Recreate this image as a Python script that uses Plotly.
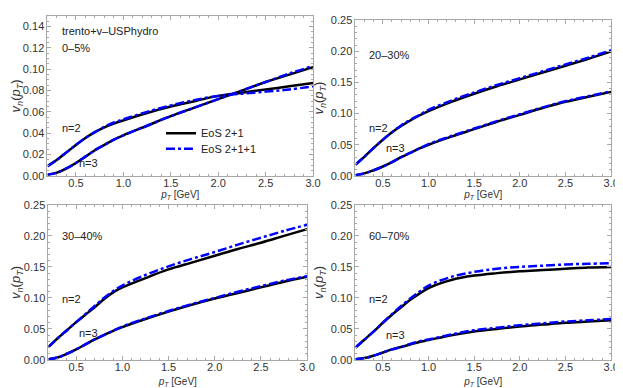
import plotly.graph_objects as go

pt = [0.2, 0.3, 0.4, 0.5, 0.6, 0.7, 0.8, 0.9, 1.0, 1.25, 1.5, 1.75, 2.0, 2.25, 2.5, 2.75, 3.0]

# 0-5%
v2_0_5_a = [0.009, 0.015, 0.022, 0.029, 0.0355, 0.041, 0.0455, 0.049, 0.052, 0.059, 0.065, 0.070, 0.075, 0.078, 0.081, 0.084, 0.087]
v2_0_5_b = [0.009, 0.015, 0.022, 0.029, 0.0355, 0.041, 0.046, 0.050, 0.053, 0.060, 0.066, 0.071, 0.075, 0.077, 0.079, 0.081, 0.084]
v3_0_5_a = [0.001, 0.003, 0.007, 0.012, 0.018, 0.024, 0.029, 0.034, 0.038, 0.047, 0.056, 0.064, 0.072, 0.080, 0.088, 0.095, 0.102]
v3_0_5_b = [0.001, 0.003, 0.007, 0.012, 0.018, 0.024, 0.029, 0.034, 0.038, 0.047, 0.056, 0.064, 0.072, 0.080, 0.088, 0.096, 0.103]

# 20-30%
v2_20_30_a = [0.018, 0.031, 0.045, 0.058, 0.070, 0.080, 0.089, 0.097, 0.104, 0.119, 0.132, 0.144, 0.155, 0.166, 0.177, 0.188, 0.200]
v2_20_30_b = [0.018, 0.031, 0.045, 0.058, 0.070, 0.081, 0.090, 0.098, 0.106, 0.121, 0.134, 0.146, 0.157, 0.168, 0.179, 0.190, 0.202]
v3_20_30_a = [0.001, 0.004, 0.009, 0.015, 0.022, 0.030, 0.037, 0.044, 0.050, 0.063, 0.075, 0.087, 0.098, 0.109, 0.119, 0.127, 0.135]
v3_20_30_b = [0.001, 0.004, 0.009, 0.015, 0.022, 0.030, 0.037, 0.044, 0.051, 0.064, 0.076, 0.088, 0.099, 0.110, 0.120, 0.128, 0.136]

# 30-40%
v2_30_40_a = [0.021, 0.035, 0.048, 0.061, 0.073, 0.085, 0.098, 0.109, 0.117, 0.132, 0.146, 0.157, 0.168, 0.179, 0.189, 0.200, 0.211]
v2_30_40_b = [0.021, 0.035, 0.048, 0.061, 0.074, 0.087, 0.100, 0.111, 0.120, 0.137, 0.151, 0.163, 0.174, 0.186, 0.197, 0.208, 0.218]
v3_30_40_a = [0.001, 0.004, 0.010, 0.017, 0.025, 0.033, 0.040, 0.047, 0.053, 0.066, 0.078, 0.089, 0.099, 0.108, 0.117, 0.126, 0.134]
v3_30_40_b = [0.001, 0.004, 0.010, 0.017, 0.025, 0.033, 0.040, 0.047, 0.054, 0.067, 0.079, 0.090, 0.100, 0.110, 0.119, 0.128, 0.135]

# 60-70%
v2_60_70_a = [0.020, 0.033, 0.046, 0.060, 0.073, 0.085, 0.097, 0.107, 0.116, 0.129, 0.136, 0.140, 0.143, 0.145, 0.147, 0.149, 0.150]
v2_60_70_b = [0.020, 0.033, 0.046, 0.060, 0.074, 0.087, 0.099, 0.110, 0.120, 0.134, 0.142, 0.147, 0.150, 0.152, 0.154, 0.155, 0.156]
v3_60_70_a = [0.001, 0.003, 0.007, 0.012, 0.017, 0.021, 0.025, 0.029, 0.032, 0.040, 0.046, 0.050, 0.054, 0.057, 0.060, 0.062, 0.064]
v3_60_70_b = [0.001, 0.003, 0.007, 0.012, 0.017, 0.021, 0.026, 0.030, 0.033, 0.041, 0.048, 0.052, 0.056, 0.059, 0.062, 0.064, 0.066]

panels = [
    ("0–5%", v2_0_5_a, v2_0_5_b, v3_0_5_a, v3_0_5_b),
    ("20–30%", v2_20_30_a, v2_20_30_b, v3_20_30_a, v3_20_30_b),
    ("30–40%", v2_30_40_a, v2_30_40_b, v3_30_40_a, v3_30_40_b),
    ("60–70%", v2_60_70_a, v2_60_70_b, v3_60_70_a, v3_60_70_b),
]

W, H = 623, 388
# panel boxes in pixels: left, right, top, bottom
boxes = [(40, 309, 2, 167), (352, 611, 6.5, 167), (41, 303, 197, 357), (352, 611, 197, 357)]

fig = go.Figure()
font = "Liberation Sans, Arial, sans-serif"
frame = "#a8a8a8"

for i, (label, v2a, v2b, v3a, v3b) in enumerate(panels):
    k = "" if i == 0 else str(i + 1)
    l, r, t, b = boxes[i]
    series = [(v2a, "black", "solid", "EoS 2+1", "legend"), (v3a, "black", "solid", None, None),
              (v2b, "#0000ff", "dashdot", "EoS 2+1+1", "legend2"), (v3b, "#0000ff", "dashdot", None, None)]
    for ys, col, dash, name, leg in series:
        fig.add_trace(go.Scatter(
            x=pt, y=ys, mode="lines", xaxis="x" + k, yaxis="y" + k,
            line=dict(color=col, width=2.5, dash=dash, shape="spline", smoothing=1.0),
            name=name if name else "", legend=leg if leg else "legend",
            showlegend=(i == 0 and name is not None)))
    ymax = 0.15 if i == 0 else 0.25
    ydt = 0.02 if i == 0 else 0.05
    ymin_dt = 0.005 if i == 0 else 0.01
    axis_common = dict(showline=True, linecolor=frame, linewidth=1, mirror="ticks",
                       ticks="inside", ticklen=4, tickcolor=frame, showgrid=False, zeroline=False,
                       tickfont=dict(size=11, color="#333333", family=font))
    fig.layout["xaxis" + k] = dict(
        axis_common, domain=[l / W, r / W], range=[0.2, 3.0], anchor="y" + k,
        tickvals=[0.5, 1.0, 1.5, 2.0, 2.5, 3.0], tickformat=".1f", ticklabelstandoff=-3,
        minor=dict(ticks="inside", ticklen=2, tickcolor=frame, dtick=0.1, tick0=0.0),
        title=dict(text="<i>p</i><sub><i>T</i></sub> [GeV]", font=dict(size=10, color="#333333", family=font),
                   standoff=1 if i < 2 else 5))
    fig.layout["yaxis" + k] = dict(
        axis_common, domain=[1 - b / H, 1 - t / H], range=[0, ymax], anchor="x" + k,
        dtick=ydt, tick0=0, tickformat=".2f",
        minor=dict(ticks="inside", ticklen=2, tickcolor=frame, dtick=ymin_dt, tick0=0),
        title=dict(text="<i>v</i><sub><i>n</i></sub>(<i>p</i><sub><i>T</i></sub>)", font=dict(size=13, color="#333333", family=font), standoff=4))

# text labels (pixel positions)
texts = [
    ("trento+v–USPhydro", 53, 18), ("0–5%", 53, 35), ("n=2", 53, 118), ("n=3", 70, 154),
    ("20–30%", 364, 42), ("n=2", 364, 118), ("n=3", 381, 138),
    ("30–40%", 53, 229), ("n=2", 53, 294), ("n=3", 70, 329),
    ("60–70%", 364, 229), ("n=2", 364, 294), ("n=3", 381, 331),
]
for txt, px, py in texts:
    fig.add_annotation(text=txt, x=px / W, y=1 - py / H, xref="paper", yref="paper",
                       xanchor="left", yanchor="middle", showarrow=False,
                       font=dict(size=11, color="#222222", family=font))

leg_common = dict(xanchor="left", yanchor="middle", bgcolor="rgba(0,0,0,0)",
                  font=dict(size=11, color="#222222", family=font), itemwidth=30)
fig.update_layout(
    width=W, height=H, margin=dict(l=0, r=0, t=0, b=0),
    paper_bgcolor="white", plot_bgcolor="white",
    legend=dict(leg_common, x=155 / W, y=1 - 123 / H),
    legend2=dict(leg_common, x=155 / W, y=1 - 139 / H),
)

fig.write_html("out.html")
